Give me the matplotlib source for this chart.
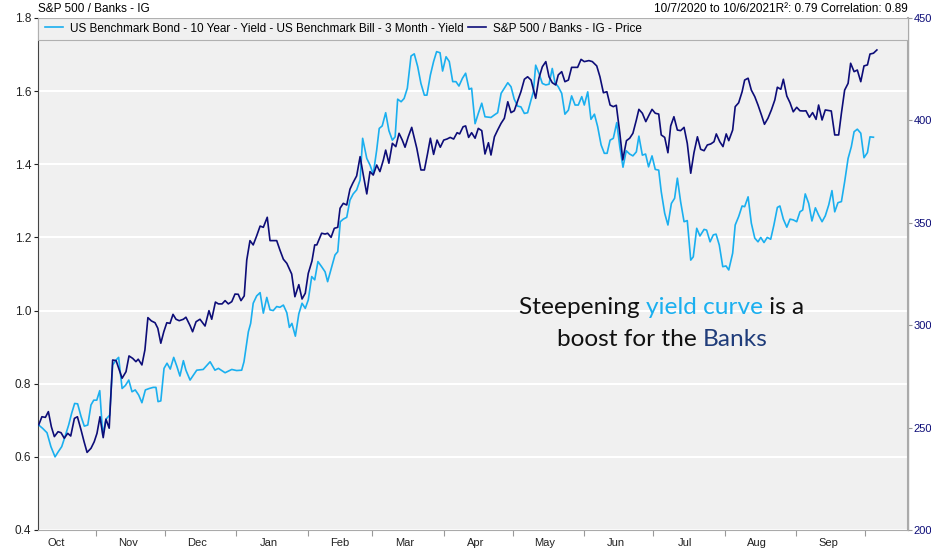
import pandas as pd
import numpy as np
import matplotlib
matplotlib.use("Agg")
import matplotlib.pyplot as plt
import matplotlib.dates as mdates
from matplotlib.patches import Rectangle

# --- データ（2020-10-07からの経過日数と値） ---
START = pd.Timestamp("2020-10-07")

yld_day = [0.3, 2.0, 3.9, 5.6, 7.4, 8.8, 10.3, 11.7, 13.3, 14.6, 15.9, 17.2, 18.7, 20.1, 21.6, 23.0, 24.2,
           25.5, 26.8, 28.1, 29.5, 31.1, 32.4, 33.9, 35.0, 36.5, 37.9, 39.4, 40.8, 42.2, 43.7, 45.1, 46.6,
           48.3, 50.0, 51.2, 52.1, 53.3, 54.7, 56.0, 57.4, 58.9, 60.3, 61.6, 63.1, 64.2, 66.0, 68.9, 71.7,
           74.7, 76.8, 78.3, 81.2, 84.1, 86.2, 88.4, 89.4, 91.3, 92.3, 93.4, 94.9, 96.4, 97.8, 99.3, 100.7,
           102.1, 103.6, 105.0, 106.5, 108.0, 109.1, 110.2, 111.7, 113.2, 114.6, 116.0, 117.3, 118.8, 120.1,
           121.5, 123.1, 124.6, 125.7, 127.5, 128.9, 130.1, 131.2, 132.5, 134.0, 135.4, 136.8, 138.3, 139.8,
           140.9, 142.7, 144.1, 145.5, 147.0, 148.1, 149.4, 150.9, 152.3, 153.8, 155.0, 156.1, 157.6, 158.9,
           160.3, 161.9, 163.3, 164.8, 166.2, 167.7, 168.8, 170.3, 171.7, 173.0, 174.5, 175.6, 177.1, 178.5,
           180.0, 181.4, 182.7, 184.2, 185.6, 187.1, 188.2, 189.7, 191.1, 192.6, 194.0, 196.6, 198.1, 199.5,
           201.0, 202.4, 203.9, 205.3, 206.7, 208.2, 209.6, 211.1, 212.5, 214.0, 215.0, 216.0, 217.4, 218.9,
           220.4, 221.8, 223.2, 224.4, 225.8, 227.3, 228.7, 230.2, 231.6, 233.1, 234.5, 236.0, 237.1, 238.6,
           240.0, 241.5, 242.9, 244.4, 245.8, 247.0, 248.3, 249.7, 251.2, 252.5, 253.9, 255.3, 256.8, 258.2,
           259.7, 260.8, 262.3, 263.7, 265.0, 266.5, 267.9, 269.4, 270.5, 272.0, 273.4, 274.9, 276.3, 277.5,
           278.9, 280.4, 281.8, 283.3, 284.4, 285.9, 287.3, 289.1, 290.2, 291.7, 293.1, 294.3, 295.7, 297.2,
           298.6, 299.8, 301.5, 302.6, 304.1, 305.6, 306.7, 308.2, 309.6, 311.1, 312.5, 313.7, 315.1, 316.5,
           318.0, 319.4, 320.9, 322.0, 323.5, 325.0, 326.4, 327.8, 329.3, 330.7, 331.9, 333.0, 334.5, 335.9,
           337.4, 338.8, 340.3, 341.7, 343.2, 344.6, 345.8, 347.2, 348.7, 350.1, 351.6, 353.0, 354.2, 355.6,
           357.1, 358.5, 360.0, 361.1, 362.6]
yld_val = [0.687, 0.678, 0.666, 0.628, 0.600, 0.614, 0.628, 0.655, 0.687, 0.719, 0.746, 0.745, 0.710, 0.684,
           0.687, 0.742, 0.755, 0.755, 0.781, 0.660, 0.703, 0.714, 0.851, 0.865, 0.872, 0.787, 0.795, 0.810,
           0.778, 0.783, 0.769, 0.748, 0.783, 0.787, 0.790, 0.790, 0.751, 0.753, 0.842, 0.856, 0.840, 0.872,
           0.847, 0.821, 0.863, 0.837, 0.810, 0.837, 0.839, 0.860, 0.837, 0.842, 0.830, 0.839, 0.836, 0.837,
           0.860, 0.942, 0.965, 1.020, 1.040, 1.049, 0.993, 1.036, 1.002, 1.000, 1.011, 1.009, 1.015, 0.994,
           0.954, 0.965, 0.930, 0.991, 1.020, 1.006, 1.029, 1.093, 1.084, 1.134, 1.120, 1.106, 1.079, 1.120,
           1.152, 1.161, 1.243, 1.250, 1.255, 1.302, 1.319, 1.330, 1.357, 1.471, 1.416, 1.398, 1.373, 1.439,
           1.498, 1.505, 1.541, 1.492, 1.466, 1.475, 1.578, 1.571, 1.580, 1.608, 1.696, 1.702, 1.667, 1.621,
           1.589, 1.589, 1.644, 1.681, 1.708, 1.705, 1.655, 1.694, 1.681, 1.626, 1.626, 1.614, 1.635, 1.649,
           1.605, 1.608, 1.511, 1.539, 1.567, 1.530, 1.528, 1.535, 1.541, 1.594, 1.608, 1.623, 1.612, 1.578,
           1.559, 1.557, 1.539, 1.541, 1.576, 1.598, 1.671, 1.649, 1.621, 1.617, 1.619, 1.662, 1.623, 1.612,
           1.594, 1.537, 1.548, 1.587, 1.562, 1.562, 1.585, 1.562, 1.598, 1.523, 1.537, 1.503, 1.453, 1.430,
           1.430, 1.466, 1.471, 1.514, 1.448, 1.392, 1.437, 1.428, 1.423, 1.434, 1.477, 1.425, 1.428, 1.393,
           1.423, 1.386, 1.384, 1.325, 1.266, 1.234, 1.293, 1.307, 1.362, 1.298, 1.243, 1.246, 1.138, 1.147,
           1.225, 1.204, 1.222, 1.220, 1.188, 1.207, 1.209, 1.179, 1.120, 1.122, 1.111, 1.157, 1.234, 1.257,
           1.286, 1.284, 1.311, 1.239, 1.198, 1.188, 1.200, 1.186, 1.200, 1.195, 1.234, 1.282, 1.286, 1.250,
           1.228, 1.250, 1.248, 1.243, 1.270, 1.275, 1.319, 1.293, 1.245, 1.281, 1.261, 1.243, 1.259, 1.289,
           1.328, 1.270, 1.295, 1.298, 1.352, 1.416, 1.448, 1.489, 1.496, 1.485, 1.418, 1.432, 1.475, 1.474]

px_day = [0.3, 1.7, 3.2, 4.5, 5.8, 7.1, 8.7, 10.0, 11.4, 12.9, 14.2, 15.8, 17.1, 18.7, 20.0, 21.3, 23.0,
          24.4, 25.6, 26.9, 28.3, 29.5, 30.9, 32.4, 33.9, 36.5, 38.2, 39.5, 41.1, 42.5, 43.5, 45.1, 46.4,
          47.7, 49.2, 50.8, 52.0, 53.3, 54.6, 55.9, 57.3, 58.6, 59.9, 61.3, 63.1, 64.2, 66.0, 67.1, 68.6,
          70.3, 72.5, 74.2, 75.4, 77.0, 78.3, 79.9, 81.2, 82.6, 84.1, 85.5, 86.9, 88.1, 89.5, 90.6, 92.0,
          93.4, 94.9, 96.4, 97.8, 99.5, 100.7, 103.6, 105.0, 106.5, 108.0, 110.1, 111.5, 113.2, 114.6,
          116.0, 117.3, 118.9, 120.1, 121.0, 123.1, 124.6, 125.7, 127.2, 128.6, 130.1, 131.1, 132.5, 134.0,
          135.4, 136.6, 138.3, 139.8, 141.2, 142.7, 144.1, 145.5, 147.0, 148.4, 149.9, 150.9, 152.3, 153.8,
          155.3, 156.7, 158.1, 159.3, 160.7, 162.2, 164.4, 166.2, 167.7, 169.1, 170.3, 171.7, 173.2, 174.6,
          176.1, 177.5, 178.9, 180.4, 181.9, 183.0, 184.5, 185.6, 186.9, 188.2, 189.7, 191.1, 192.6, 194.0,
          195.5, 196.6, 198.1, 199.5, 201.0, 202.4, 203.9, 205.3, 206.7, 208.2, 209.6, 211.1, 212.5, 214.0,
          216.0, 217.4, 218.9, 220.4, 221.8, 223.2, 224.7, 225.8, 227.3, 228.7, 230.2, 231.6, 234.2, 235.7,
          237.1, 239.1, 240.6, 242.5, 243.9, 245.4, 246.9, 248.3, 249.7, 251.0, 252.5, 253.8, 255.4, 256.8,
          258.2, 259.7, 260.8, 262.3, 263.8, 265.2, 266.5, 267.9, 269.4, 270.5, 272.0, 273.4, 274.6, 276.0,
          277.5, 278.9, 280.4, 281.8, 283.3, 284.7, 286.2, 287.6, 289.1, 290.5, 292.0, 293.4, 294.4, 295.9,
          297.3, 298.7, 299.8, 301.5, 302.6, 304.1, 305.6, 306.7, 308.2, 309.6, 311.1, 312.5, 314.0, 315.3,
          316.8, 318.3, 319.8, 320.9, 322.4, 323.5, 325.0, 326.4, 327.8, 329.3, 330.7, 332.2, 333.3, 334.8,
          336.2, 337.7, 338.8, 340.3, 341.7, 344.3, 345.8, 347.5, 348.7, 350.1, 351.6, 352.7, 354.2, 355.6,
          357.1, 358.5, 360.0, 361.1, 362.6, 364.1]
px_val = [251.3, 255.3, 255.0, 257.8, 250.4, 245.6, 248.0, 247.5, 244.8, 247.2, 245.9, 254.5, 255.3, 248.8,
          243.1, 237.9, 239.9, 243.1, 247.2, 255.3, 245.1, 254.1, 249.7, 283.0, 282.7, 274.1, 277.3, 285.0,
          283.8, 282.2, 283.4, 280.6, 287.9, 303.7, 302.1, 301.2, 298.5, 291.2, 296.8, 301.2, 300.9, 305.3,
          302.9, 302.2, 302.9, 303.9, 299.8, 296.8, 301.7, 302.9, 299.6, 307.1, 302.9, 311.3, 310.4, 310.4,
          312.0, 310.4, 311.5, 315.2, 315.1, 312.0, 314.3, 331.8, 341.3, 339.2, 343.6, 348.4, 347.8, 352.7,
          341.3, 341.3, 336.7, 332.2, 330.2, 325.0, 313.9, 319.8, 312.8, 315.6, 325.3, 331.3, 339.2, 339.2,
          344.9, 344.5, 344.9, 342.9, 347.3, 347.8, 357.1, 359.5, 358.7, 366.4, 369.3, 372.9, 382.3, 373.3,
          364.1, 375.0, 373.3, 378.2, 375.0, 380.7, 385.5, 379.1, 388.8, 387.2, 393.7, 390.4, 386.9, 392.0,
          396.6, 386.4, 375.8, 375.8, 383.9, 391.3, 383.4, 390.4, 386.9, 390.4, 390.9, 391.7, 390.9, 394.0,
          393.4, 396.9, 397.3, 391.7, 394.0, 391.3, 396.1, 395.0, 383.6, 389.1, 383.1, 392.0, 395.3, 398.6,
          401.0, 409.1, 403.8, 404.7, 409.6, 414.0, 420.1, 421.3, 419.7, 410.8, 420.6, 426.2, 428.7, 421.3,
          418.4, 417.3, 422.2, 423.8, 418.9, 419.7, 425.9, 425.9, 429.8, 428.7, 429.2, 428.7, 426.6, 421.3,
          413.5, 414.0, 407.5, 406.7, 407.4, 394.0, 380.7, 390.1, 391.3, 393.7, 400.2, 405.4, 403.5, 399.4,
          402.6, 405.4, 403.5, 403.1, 392.9, 391.7, 384.2, 397.3, 401.8, 395.3, 395.0, 396.6, 388.8, 374.2,
          384.2, 392.0, 385.9, 385.2, 388.0, 388.5, 389.6, 393.4, 389.6, 387.2, 393.4, 390.1, 395.3, 406.7,
          408.6, 414.0, 419.7, 420.6, 414.8, 411.6, 407.5, 402.6, 398.1, 401.0, 405.1, 410.0, 416.2, 415.2,
          420.1, 411.9, 408.6, 404.2, 406.4, 404.7, 404.6, 404.7, 401.5, 403.8, 400.5, 407.5, 400.2, 405.1,
          404.6, 392.9, 392.9, 403.5, 414.8, 418.1, 427.9, 423.8, 424.6, 418.9, 426.6, 427.1, 432.4, 432.8,
          434.4]

months = ["Oct", "Nov", "Dec", "Jan", "Feb", "Mar", "Apr", "May", "Jun", "Jul", "Aug", "Sep"]
yld_label = "US Benchmark Bond - 10 Year - Yield - US Benchmark Bill - 3 Month - Yield"
px_label = "S&P 500 / Banks - IG - Price"

LIGHT = "#1aafef"
NAVY = "#0d0d78"
GRID_BG = "#f0f0f0"

plt.rcParams["font.family"] = ["Liberation Sans", "DejaVu Sans"]

fig = plt.figure(figsize=(9.31, 5.49), dpi=100)
ax = fig.add_axes([38 / 931, 1 - 530 / 549, 870 / 931, 512 / 549])
ax2 = ax.twinx()

yld_dates = START + pd.to_timedelta(yld_day, unit="D")
px_dates = START + pd.to_timedelta(px_day, unit="D")

ax.set_facecolor(GRID_BG)
ax.plot(yld_dates, yld_val, color=LIGHT, lw=1.2, zorder=3)
ax2.plot(px_dates, px_val, color=NAVY, lw=1.2, zorder=3)

ax.set_ylim(0.4, 1.8)
ax.set_yticks(np.arange(0.4, 1.81, 0.2))
ax.yaxis.set_major_formatter(matplotlib.ticker.FormatStrFormatter("%.1f"))
ax.grid(axis="y", color="white", lw=1.5)
ax.set_axisbelow(True)
ax2.set_ylim(200, 450)
ax2.set_yticks(range(200, 451, 50))

ax.set_xlim(START, START + pd.Timedelta(days=377.6))

# 月の境目に目盛り、月の中央にラベル
label_dates = pd.date_range("2020-10-01", periods=len(months), freq="MS") + pd.Timedelta(days=14)
ax.xaxis.set_major_locator(mdates.MonthLocator())
ax.xaxis.set_major_formatter(matplotlib.ticker.NullFormatter())
ax.set_xticks(mdates.date2num(label_dates), minor=True)
ax.set_xticklabels(months, minor=True)
ax.tick_params(axis="x", which="major", length=4, color="#999999")
ax.tick_params(axis="x", which="minor", length=0, labelsize=8, pad=6, colors="#222222")
ax.tick_params(axis="y", length=3, labelsize=8.5, colors="#222222", pad=2)
ax2.tick_params(axis="y", length=3, labelsize=8, labelcolor=NAVY, color="#999999", pad=1)

for a in (ax, ax2):
    a.spines["top"].set_visible(False)
ax.spines["left"].set_color("#444444")
ax.spines["bottom"].set_color("#aaaaaa")
ax2.spines["left"].set_visible(False)
ax2.spines["bottom"].set_visible(False)
ax2.spines["right"].set_color("#aaaaaa")
ax2.spines["right"].set_linewidth(1.5)

# 凡例（枠はプロット幅いっぱい）
ax2.add_patch(Rectangle((0, 1 - 22 / 512), 1, 22 / 512, transform=ax.transAxes,
                        facecolor=GRID_BG, edgecolor="#b0b0b0", lw=0.8, zorder=4))
h1, = ax.plot([], [], color=LIGHT, lw=1.2)
h2, = ax.plot([], [], color=NAVY, lw=1.2)
leg = ax2.legend([h1, h2], [yld_label, px_label], loc="upper left", ncol=2, frameon=False,
                 fontsize=8.5, handlelength=1.5, handletextpad=0.6, columnspacing=0.4,
                 bbox_to_anchor=(0.0, 1.005), borderaxespad=0.2)
leg.set_zorder(5)

fig.text(38 / 931, 1 - 9 / 549, "S&P 500 / Banks - IG", fontsize=8.5, va="center", ha="left")
fig.text(908 / 931, 1 - 9 / 549, "10/7/2020 to 10/6/2021R²: 0.79 Correlation: 0.89",
         fontsize=8.5, va="center", ha="right")

# 注釈（色分けテキスト）
tf = dict(fontsize=17.6, family=["Lato", "DejaVu Sans"])
t1 = ax.text(0.553, 0.422, "Steepening ", transform=ax.transAxes, color="#111111", va="baseline", **tf)
t2 = ax.annotate("yield curve", xycoords=t1, xy=(1, 0), va="bottom", color=LIGHT, **tf)
t3 = ax.annotate(" is a", xycoords=t2, xy=(1, 0), va="bottom", color="#111111", **tf)
t4 = ax.text(0.5966, 0.359, "boost for the ", transform=ax.transAxes, color="#111111", va="baseline", **tf)
t5 = ax.annotate("Banks", xycoords=t4, xy=(1, 0), va="bottom", color="#1f3c7a", **tf)

fig.savefig("out.png", dpi=100, facecolor="white")
